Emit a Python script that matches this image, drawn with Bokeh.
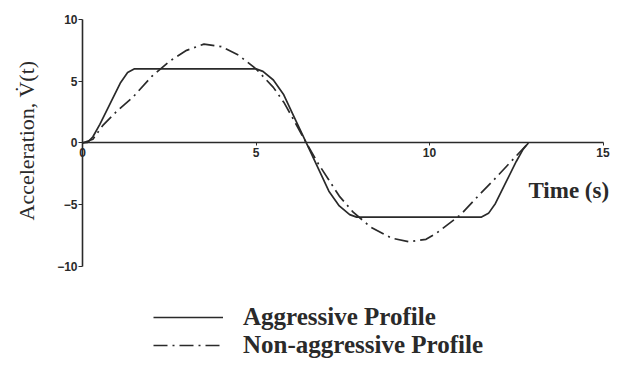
import math
from bokeh.plotting import figure
from bokeh.models import Range1d, FixedTicker, LinearAxis, Legend, LegendItem, Label
from bokeh.embed import file_html
from bokeh.resources import INLINE

# Aggressive profile (time s, acceleration)
t_aggr = [0, 0.15, 0.3, 0.5, 0.8, 1.1, 1.3, 1.5, 5.0, 5.2, 5.5, 5.8, 6.1, 6.45,
          6.8, 7.1, 7.4, 7.7, 7.9, 11.5, 11.7, 11.9, 12.2, 12.5, 12.7, 12.85]
v_aggr = [0, 0.05, 0.5, 1.5, 3.2, 4.9, 5.7, 6.0, 6.0, 5.8, 5.1, 3.9, 2.1, 0,
          -2.1, -3.9, -5.1, -5.8, -6.0, -6.0, -5.7, -4.9, -3.2, -1.5, -0.5, 0]

# Non-aggressive profile
t_non = [0, 0.3, 0.58, 1.0, 1.45, 2.0, 2.5, 3.0, 3.5, 4.0, 4.5, 5.0, 5.5, 5.8, 6.1, 6.45,
         6.8, 7.1, 7.4, 7.8, 8.3, 8.9, 9.4, 9.9, 10.2, 10.9, 11.4, 11.85, 12.35, 12.85]
v_non = [0, 0.3, 1.4, 2.6, 3.7, 5.4, 6.6, 7.5, 8.0, 7.8, 7.1, 6.0, 4.5, 3.3, 1.8, 0,
         -1.7, -3.0, -4.3, -5.6, -6.8, -7.7, -8.0, -7.8, -7.3, -5.8, -4.3, -3.0, -1.5, 0]

x_ticks = [0, 5, 10, 15]
y_ticks = [-10, -5, 0, 5, 10]

ink = "#2a2a2a"

p = figure(width=614, height=359, output_backend="svg", toolbar_location=None,
           x_range=Range1d(-2.363, 15.331), y_range=Range1d(-17.53, 11.21),
           x_axis_location=None, y_axis_location=None,
           min_border_left=0, min_border_right=0, min_border_top=4, min_border_bottom=0)
p.outline_line_color = None
for r in list(p.center):
    r.visible = False

xaxis = LinearAxis(fixed_location=0, bounds=(0, 15), ticker=FixedTicker(ticks=x_ticks))
xaxis.axis_line_color = ink
xaxis.axis_line_width = 1.6
xaxis.major_tick_out = 3
xaxis.major_tick_in = 0
xaxis.minor_tick_out = 0
xaxis.minor_tick_in = 0
xaxis.major_tick_line_color = ink
xaxis.major_label_standoff = 2
xaxis.major_label_text_font = "Liberation Sans"
xaxis.major_label_text_font_style = "bold"
xaxis.major_label_text_font_size = "12px"
xaxis.major_label_text_color = ink
p.add_layout(xaxis, "below")

yaxis = LinearAxis(fixed_location=0, bounds=(-10, 10), ticker=FixedTicker(ticks=y_ticks))
yaxis.axis_line_color = ink
yaxis.axis_line_width = 1.6
yaxis.major_tick_out = 4
yaxis.major_tick_in = 0
yaxis.minor_tick_out = 0
yaxis.minor_tick_in = 0
yaxis.major_tick_line_color = ink
yaxis.major_label_standoff = 1
yaxis.major_label_text_font = "Liberation Sans"
yaxis.major_label_text_font_style = "bold"
yaxis.major_label_text_font_size = "12px"
yaxis.major_label_text_color = ink
p.add_layout(yaxis, "left")

r1 = p.line(t_aggr, v_aggr, line_color=ink, line_width=1.7)
r2 = p.line(t_non, v_non, line_color=ink, line_width=1.7, line_dash="14 5 2 5")

p.add_layout(Label(x=-1.6, y=0.2, text="Acceleration, V\u0307(t)", angle=math.pi / 2,
                   text_font="Liberation Serif", text_font_size="22px", text_color=ink,
                   text_align="center", text_baseline="middle"))

p.add_layout(Label(x=12.85, y=-3.85, text="Time (s)", text_font="Liberation Serif",
                   text_font_style="bold", text_font_size="23px", text_color=ink,
                   text_baseline="alphabetic"))

legend = Legend(items=[LegendItem(label="Aggressive Profile", renderers=[r1]),
                       LegendItem(label="Non-aggressive Profile", renderers=[r2])],
                location=(153, 0))
legend.padding = 0
legend.margin = 0
legend.spacing = 0
legend.glyph_width = 70
legend.glyph_height = 24
legend.label_height = 24
legend.label_standoff = 20
legend.label_text_font = "Liberation Serif"
legend.label_text_font_style = "bold"
legend.label_text_font_size = "25px"
legend.label_text_color = ink
legend.border_line_color = None
legend.background_fill_alpha = 0
p.add_layout(legend)

open("out.html", "w").write(file_html(p, INLINE))
